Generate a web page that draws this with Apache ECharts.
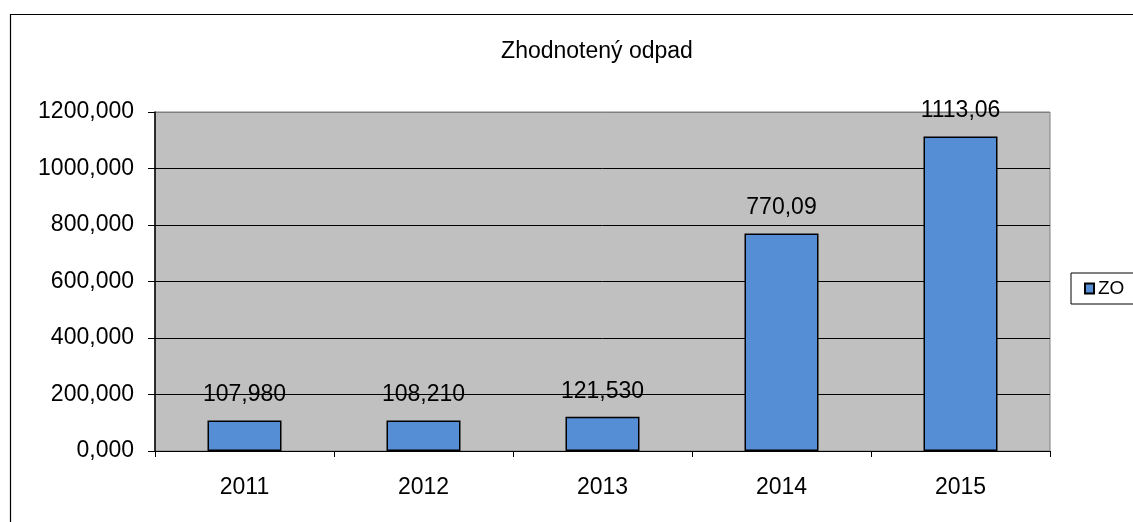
<!DOCTYPE html>
<html><head><meta charset="utf-8">
<script src="https://cdn.jsdelivr.net/npm/echarts@6/dist/echarts.min.js"></script>
<style>html,body{margin:0;padding:0;background:#fff}#c{width:1133px;height:522px}</style>
</head><body><div id="c"></div>
<script>
const categories = ['2011', '2012', '2013', '2014', '2015'];
const values = [107.98, 108.21, 121.53, 770.09, 1113.06];
const valueLabels = ['107,980', '108,210', '121,530', '770,09', '1113,06'];
const seriesName = 'ZO';
const titleText = 'Zhodnotený odpad';

const chart = echarts.init(document.getElementById('c'), null, {renderer: 'canvas'});
const font = 'Liberation Sans, Arial, sans-serif';
chart.setOption({
  animation: false,
  backgroundColor: '#fff',
  title: {
    text: titleText, left: 597, top: 40, textAlign: 'center', padding: 0,
    textStyle: {fontFamily: font, fontSize: 23, fontWeight: 'normal', color: '#000', letterSpacing: -0.3}
  },
  graphic: [{
    type: 'rect', shape: {x: 10.5, y: 14.5, width: 1200, height: 600},
    style: {fill: 'none', stroke: '#000', lineWidth: 1.2}, z: -10
  }],
  legend: {
    left: 1071, top: 273, orient: 'vertical',
    padding: [6, 60, 6, 13],
    borderColor: '#000', borderWidth: 1, backgroundColor: '#fff',
    itemWidth: 9, itemHeight: 10, itemGap: 4,
    icon: 'rect',
    textStyle: {fontFamily: font, fontSize: 19, lineHeight: 18, color: '#000', padding: [0, 0, 0, -1]},
    data: [seriesName]
  },
  grid: {
    left: 155, right: 83, top: 112, bottom: 71,
    show: true, backgroundColor: '#c0c0c0', borderColor: '#808080', borderWidth: 1
  },
  xAxis: {
    type: 'category', data: categories,
    axisLine: {show: true, lineStyle: {color: '#000', width: 1}},
    axisTick: {show: true, inside: false, length: 6, lineStyle: {color: '#000'}},
    axisLabel: {fontFamily: font, fontSize: 23, color: '#000', margin: 25},
    splitLine: {show: false}
  },
  yAxis: {
    type: 'value', min: 0, max: 1200, interval: 200,
    axisLine: {show: true, lineStyle: {color: '#000', width: 1.5}},
    axisTick: {show: true, inside: false, length: 7, lineStyle: {color: '#000'}},
    axisLabel: {fontFamily: font, fontSize: 23, color: '#000', margin: 21,
      formatter: v => v.toFixed(3).replace('.', ',')},
    splitLine: {show: true, lineStyle: {color: ['#000', '#000', '#000', '#000', '#000', '#000', '#808080'], width: 1}}
  },
  series: [{
    name: seriesName, type: 'bar', data: values, barWidth: 74,
    itemStyle: {color: '#558ed5', borderColor: '#000', borderWidth: 1.5},
    label: {
      show: true, position: 'top', distance: 14,
      fontFamily: font, fontSize: 23, color: '#000',
      formatter: p => valueLabels[p.dataIndex]
    }
  }]
});
</script></body></html>
